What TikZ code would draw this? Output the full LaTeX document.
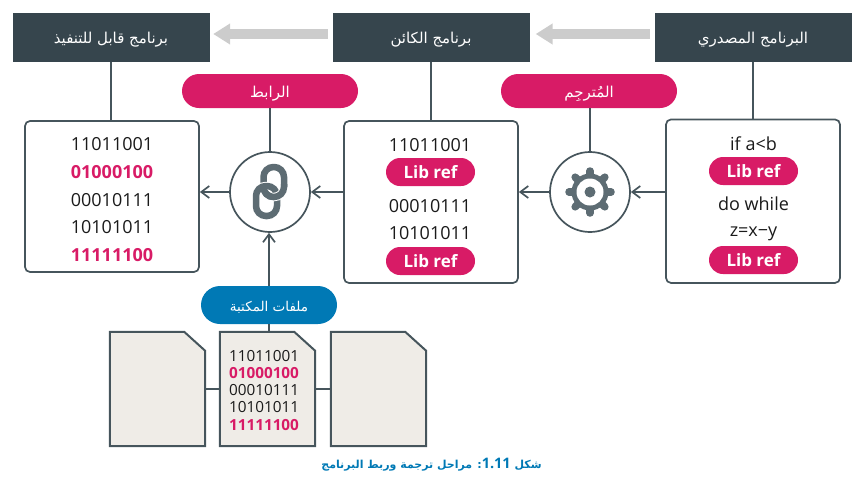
\documentclass[tikz,border=0pt]{standalone}
\usepackage{fontspec}
\setmainfont{Open Sans}
\newfontfamily\arabicfont[Script=Arabic]{DejaVu Sans}
\TeXXeTstate=1
\usetikzlibrary{arrows.meta,shapes.misc,calc}

\definecolor{hdrdark}{HTML}{36454D}
\definecolor{linedark}{HTML}{46555C}
\definecolor{icongray}{HTML}{5D6C73}
\definecolor{refpink}{HTML}{D81B66}
\definecolor{libblue}{HTML}{0079B5}
\definecolor{filefill}{HTML}{EFECE7}
\definecolor{bararrow}{HTML}{CCCCCC}
\definecolor{inktext}{HTML}{1A1A1A}

\tikzset{
  arlabel/.style={font=\arabicfont\fontsize{#1}{#1}\selectfont,text height=12pt,text depth=0pt},
  header/.style={fill=hdrdark,text=white,arlabel=15,minimum width=197pt,minimum height=49pt,inner sep=0pt},
  codebox/.style={draw=linedark,line width=1.7pt,rounded corners=5pt,minimum width=174pt,inner sep=0pt},
  stage/.style={circle,draw=linedark,line width=1.7pt,fill=white,minimum size=80pt,inner sep=0pt},
  toolpill/.style={rounded rectangle,fill=refpink,text=white,arlabel=15,minimum width=176pt,minimum height=34pt,inner sep=0pt},
  bluepill/.style={rounded rectangle,fill=libblue,text=white,arlabel=13.5,minimum width=136pt,minimum height=38pt,inner sep=0pt},
  libref/.style={rounded rectangle,fill=refpink,text=white,font=\bfseries\fontsize{17}{17}\selectfont,minimum width=89pt,minimum height=28pt,inner sep=0pt},
  bits/.style={text=inktext,font=\fontsize{18}{18}\selectfont,inner sep=0pt,yshift=-1pt},
  hotbits/.style={text=refpink,font=\bfseries\fontsize{18}{18}\selectfont,inner sep=0pt,yshift=-1pt},
  smallbits/.style={text=inktext,font=\fontsize{15.3}{15.3}\selectfont,inner sep=0pt},
  smallhot/.style={text=refpink,font=\bfseries\fontsize{15.3}{15.3}\selectfont,inner sep=0pt},
  wire/.style={draw=linedark,line width=1.7pt},
  flow/.style={wire,-{Straight Barb[length=8pt,width=12pt]}},
  bar/.style={draw=bararrow,line width=10pt,-{Triangle[length=17pt,width=20pt]},shorten <=4.5pt},
  filesheet/.style={draw=linedark,line width=2pt,fill=filefill},
  fileslot/.style={minimum width=95pt,minimum height=114pt,inner sep=0pt}
}

\begin{document}
\begin{tikzpicture}[x=1pt,y=-1pt]
  \useasboundingbox (0,0) rectangle (866,485);

  % headers
  \node[header] (hdrExe) at (111,37.5) {\beginR برنامج قابل للتنفيذ\endR};
  \node[header] (hdrObj) at (431,37.5) {\beginR برنامج الكائن\endR};
  \node[header] (hdrSrc) at (753,37.5) {\beginR البرنامج المصدري\endR};

  \draw[bar,shorten >=6pt] ([yshift=3.5pt]hdrSrc.west) -- ([yshift=3.5pt]hdrObj.east);
  \draw[bar,shorten >=3.5pt] ([yshift=3.5pt]hdrObj.west) -- ([yshift=3.5pt]hdrExe.east);

  % code boxes
  \node[codebox,minimum height=151pt] (boxExe) at (112,196.5) {};
  \node[codebox,minimum height=162pt] (boxObj) at (431,202) {};
  \node[codebox,minimum height=163.5pt] (boxSrc) at (753,201.2) {};

  % tools
  \node[stage] (linkCircle) at (270,192) {};
  \node[stage] (gearCircle) at (590,192) {};
  \node[toolpill] (linkerPill) at (270,91) {\beginR الرابط\endR};
  \node[toolpill] (compilerPill) at (589,91) {\beginR المُترجِم\endR};
  \node[bluepill] (libPill) at (269,305) {\beginR ملفات المكتبة\endR};

  % library files
  \node[fileslot] (fileA) at (157.5,389) {};
  \node[fileslot] (fileB) at (267.5,389) {};
  \node[fileslot] (fileC) at (378.5,389) {};
  \foreach \f in {fileA,fileB,fileC} {
    \draw[filesheet] (\f.north west) -- ($(\f.north east)+(-21,0)$)
      -- ($(\f.north east)+(0,19)$) -- (\f.south east) -- (\f.south west) -- cycle;
  }

  % connectors
  \draw[wire] (hdrExe.south) -- (hdrExe.south |- boxExe.north);
  \draw[wire] (hdrObj.south) -- (boxObj.north);
  \draw[wire] (hdrSrc.south) -- (boxSrc.north);
  \draw[wire] (linkerPill.south -| linkCircle.north) -- (linkCircle.north);
  \draw[wire] (compilerPill.south -| gearCircle.north) -- (gearCircle.north);
  \draw[flow] (boxSrc.west |- gearCircle.east) -- (gearCircle.east);
  \draw[flow] (gearCircle.west) -- (boxObj.east |- gearCircle.west);
  \draw[flow] (boxObj.west |- linkCircle.east) -- (linkCircle.east);
  \draw[flow] (linkCircle.west) -- (boxExe.east |- linkCircle.west);
  \draw[flow] (libPill.north) -- (libPill.north |- linkCircle.south);
  \draw[wire] (libPill.south) -- (libPill.south |- fileB.north);
  \draw[wire] (fileA.east) -- (fileB.west);
  \draw[wire] (fileB.east) -- (fileC.west);

  % gear
  \begin{scope}[shift={(gearCircle.center)}]
    \fill[icongray] (0,0) circle [radius=18.5pt];
    \foreach \a in {0,45,...,315} {
      \draw[icongray,line width=7.5pt,line cap=round,rotate=\a] (0,0) -- (21,0);
    }
    \fill[white] (0,0) circle [radius=13.5pt];
    \fill[icongray] (0,0) circle [radius=5.5pt];
  \end{scope}

  % chain links
  \begin{scope}[shift={(linkCircle.center)},line width=6.5pt,rounded corners=10pt]
    \draw[icongray] (-6.5,-25) rectangle (14,5);
    \draw[white,line width=8.5pt] (-14,-6) rectangle (7,24);
    \draw[icongray] (-14,-6) rectangle (7,24);
    \draw[white,line width=8.5pt] (14,-1) -- (14,5) -- (2,5);
    \draw[icongray] (14,-8) -- (14,5) -- (-6.5,5) -- (-6.5,0);
  \end{scope}

  % text in the boxes
  \foreach \y/\s/\t in {143/bits/11011001,171/hotbits/01000100,199/bits/00010111,226/bits/10101011,254/hotbits/11111100} {
    \node[\s,name=exe\y] at (112,\y) {\t};
  }
  \foreach \y/\t in {144/11011001,205/00010111,232/10101011} {
    \node[bits,name=obj\y] at (430,\y) {\t};
  }
  \foreach \y in {172,261} {
    \node[libref,name=objRef\y] at (430.5,\y) {Lib ref};
  }
  \foreach \y/\t/\n in {143/if a<b/one,203/do while/two,232.5/z=x−y/three} {
    \node[bits,name=src\n] at (753.5,\y) {\t};
  }
  \foreach \y in {171,260} {
    \node[libref,name=srcRef\y] at (753.5,\y) {Lib ref};
  }

  % text in the middle file
  \foreach \y/\s/\t/\n in {356/smallbits/11011001/one,373/smallhot/01000100/two,390.5/smallbits/00010111/three,407.5/smallbits/10101011/four,425/smallhot/11111100/five} {
    \node[\s,name=lib\n] at (264,\y) {\t};
  }

  % caption
  \node[text=libblue,inner sep=0pt,font=\arabicfont\bfseries\fontsize{11}{11}\selectfont] (caption) at (431.5,465) {\beginR شكل \beginL{\rmfamily\fontsize{14.5}{14.5}\selectfont 1.11}\endL: مراحل ترجمة وربط البرنامج\endR};
\end{tikzpicture}
\end{document}
